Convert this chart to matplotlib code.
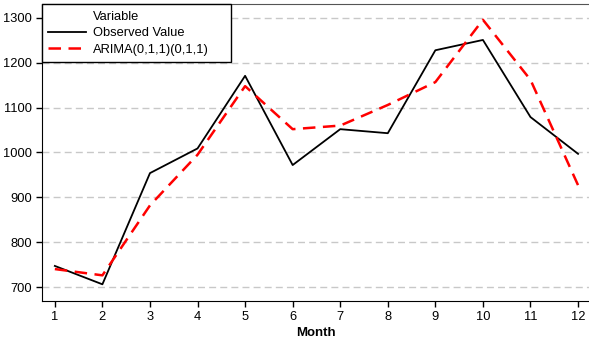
"""Observed monthly values against ARIMA(0,1,1)(0,1,1) fit."""

import matplotlib

matplotlib.use("Agg")
import matplotlib.pyplot as plt
from matplotlib.lines import Line2D

MONTHS = [1, 2, 3, 4, 5, 6, 7, 8, 9, 10, 11, 12]
OBSERVED = [747, 706, 954, 1009, 1171, 972, 1052, 1043, 1228, 1251, 1079, 997]
ARIMA = [740, 726, 882, 995, 1148, 1052, 1060, 1106, 1157, 1296, 1162, 927]
Y_TICKS = [700, 800, 900, 1000, 1100, 1200, 1300]

plt.rcParams["font.family"] = ["Liberation Sans", "DejaVu Sans"]
plt.rcParams["font.size"] = 9.3

fig = plt.figure(figsize=(5.89, 3.40), dpi=100)
ax = fig.add_axes([0.0713, 0.115, 0.9287, 0.873])

obs_line, = ax.plot(MONTHS, OBSERVED, color="black", lw=1.3)
arima_line, = ax.plot(MONTHS, ARIMA, color="red", lw=1.8, ls=(0, (5, 3)))

ax.set_xlim(0.73, 12.23)
ax.set_ylim(669, 1331)
ax.set_xticks(MONTHS)
ax.set_yticks(Y_TICKS)
ax.yaxis.grid(True, color="#c8c8c8", ls=(0, (5, 3)), lw=1)
ax.set_axisbelow(True)
ax.tick_params(length=4, width=1, color="black", labelsize=9.3, pad=3)

for side in ("left", "bottom"):
    ax.spines[side].set_color("black")
ax.spines["top"].set_color("#555555")
ax.spines["right"].set_visible(False)

ax.set_xlabel("Month", fontweight="bold", fontsize=9.5, labelpad=3)

# legend title sits in the text column, so use an empty handle for it
blank = Line2D([], [], color="none")
leg = ax.legend([blank, obs_line, arima_line],
                ["Variable", "Observed Value", "ARIMA(0,1,1)(0,1,1)"],
                loc="upper left", bbox_to_anchor=(0, 0, 0.3455, 1),
                mode="expand", borderaxespad=0, fancybox=False, framealpha=1,
                edgecolor="black", fontsize=9.3, handlelength=2.9,
                handletextpad=0.55, borderpad=0.5, labelspacing=0.35)
leg.get_frame().set_linewidth(1)

fig.savefig("out.png", dpi=100)
